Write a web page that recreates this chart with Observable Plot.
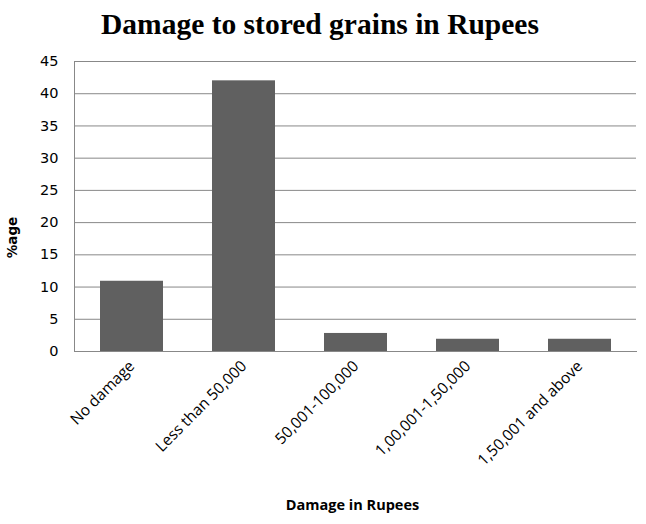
<!DOCTYPE html>
<html><head><meta charset="utf-8">
<script src="https://cdn.jsdelivr.net/npm/d3@7"></script>
<script src="https://cdn.jsdelivr.net/npm/@observablehq/plot@0.6"></script>
<style>
body{margin:0;background:#fff;}
#title{height:48px;line-height:48px;text-align:center;font-family:"Liberation Serif","Times New Roman",serif;font-weight:bold;font-size:29.5px;color:#000;padding-right:6px;}
</style></head><body>
<div id="title">Damage to stored grains in Rupees</div>
<div id="chart"></div>
<script>
const categories = ["No damage","Less than 50,000","50,001-100,000","1,00,001-1,50,000","1,50,001 and above"];
const values = [10.9, 42, 2.8, 1.9, 1.9];
const yTicks = [0,5,10,15,20,25,30,35,40,45];

const data = categories.map((c,i)=>({category:c, value:values[i]}));

const chart = Plot.plot({
  width: 646,
  height: 476,
  marginTop: 13,
  marginBottom: 173,
  marginLeft: 74,
  marginRight: 10,
  style: {fontFamily: "'Liberation Sans', Arial, sans-serif", background: "#fff"},
  x: {domain: categories, paddingInner: 0.44, paddingOuter: 0.22, label: null},
  y: {domain: [0,45], ticks: yTicks, label: null},
  marks: [
    Plot.gridY(yTicks, {stroke: "#888", strokeOpacity: 1, strokeWidth: 1}),
    Plot.barY(data, {x: "category", y: "value", fill: "#606060"}),
    Plot.axisY({ticks: yTicks, tickSize: 0, tickPadding: 16, fontSize: 14.5, fill: "#000", fontFamily: "'DejaVu Sans', Tahoma, sans-serif", label: null}),
    Plot.axisX({tickSize: 0, tickRotate: -45, tickPadding: 12, fontSize: 15.5, fill: "#000", fontFamily: "'Open Sans', Calibri, sans-serif", label: null}),
    Plot.frame({anchor: "left", stroke: "#888"}),
    Plot.frame({anchor: "bottom", stroke: "#888"}),
    Plot.text(["%age"], {frameAnchor: "left", textAnchor: "middle", dx: -62, dy: 31, rotate: -90, fontWeight: "bold", fontSize: 13.5, fill: "#000", fontFamily: "'DejaVu Sans', Verdana, sans-serif"}),
    Plot.text(["Damage in Rupees"], {frameAnchor: "bottom", dy: 158, dx: -3, fontWeight: "bold", fontSize: 14.5, fill: "#000", fontFamily: "'Open Sans', Calibri, sans-serif"})
  ]
});
document.getElementById("chart").appendChild(chart);
</script>
</body></html>
